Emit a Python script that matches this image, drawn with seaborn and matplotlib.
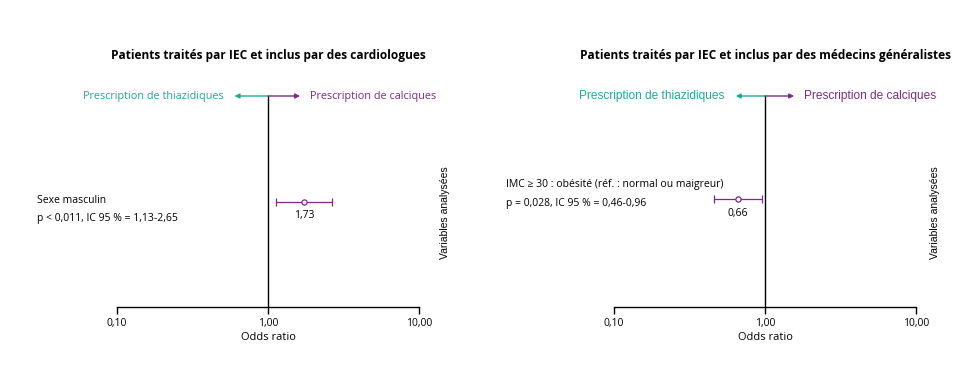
import numpy as np
import pandas as pd
import seaborn as sns
import matplotlib.pyplot as plt

# data
titles = ["Patients traités par IEC et inclus par des cardiologues",
          "Patients traités par IEC et inclus par des médecins généralistes"]
variables = ["Sexe masculin",
             "IMC ≥ 30 : obésité (réf. : normal ou maigreur)"]
stats_txt = ["p < 0,011, IC 95 % = 1,13-2,65",
             "p = 0,028, IC 95 % = 0,46-0,96"]
odds = [1.73, 0.66]
ci_low = [1.13, 0.46]
ci_high = [2.65, 0.96]
odds_lbl = ["1,73", "0,66"]
tick_vals = [0.1, 1.0, 10.0]
tick_lbls = ["0,10", "1,00", "10,00"]

TEAL = "#1fa99b"
PURPLE = "#7d2a85"

sns.set_style("white")
plt.rcParams['font.family'] = ['Open Sans', 'DejaVu Sans']
plt.rcParams['text.color'] = 'black'
plt.rcParams['axes.labelcolor'] = 'black'
plt.rcParams['xtick.color'] = 'black'

fig = plt.figure(figsize=(9.73, 3.8), dpi=100)
W, H = 973, 380
# axes placement in pixels: x0, x1, top(y of arrows), bottom(y of axis)
boxes = [(117, 419), (614, 916)]
top_px, bot_px = 96, 307
arrow_tips = [(0.60, 1.63), (0.64, 1.56)]   # where the arrows end
y_pts = [0.50, 0.51]
var_x = [-0.265, -0.358]
var_y = [0.53, 0.605]
side_x = [1.087, 1.063]
arrow_fonts = ['Open Sans', 'Liberation Sans']
arrow_sizes = [7.8, 8.6]

for i, (x0, x1) in enumerate(boxes):
    ax = fig.add_axes([x0 / W, (H - bot_px) / H, (x1 - x0) / W, (bot_px - top_px) / H])
    ax.set_xscale('log')
    ax.set_xlim(0.1, 10)
    ax.set_ylim(0, 1)

    df = pd.DataFrame({'or': [odds[i]], 'y': [y_pts[i]]})
    ax.errorbar(odds[i], y_pts[i],
                xerr=[[odds[i] - ci_low[i]], [ci_high[i] - odds[i]]],
                fmt='none', ecolor=PURPLE, elinewidth=0.9, capsize=3, capthick=0.9)
    sns.scatterplot(data=df, x='or', y='y', ax=ax, marker='o', s=14,
                    facecolor='white', edgecolor=PURPLE, linewidth=0.9, zorder=3)
    ax.annotate(odds_lbl[i], (odds[i], y_pts[i]), xytext=(0, -6),
                textcoords='offset points', ha='center', va='top', fontsize=7.5)

    # reference line at OR = 1
    ax.plot([1, 1], [0, 1], color='black', lw=1, clip_on=False)
    lt, rt = arrow_tips[i]
    ax.annotate('', xy=(lt, 1), xytext=(1, 1), annotation_clip=False,
                arrowprops=dict(arrowstyle='-|>', color=TEAL, lw=1, mutation_scale=7,
                                shrinkA=0, shrinkB=0))
    ax.annotate('', xy=(rt, 1), xytext=(1, 1), annotation_clip=False,
                arrowprops=dict(arrowstyle='-|>', color=PURPLE, lw=1, mutation_scale=7,
                                shrinkA=0, shrinkB=0))
    ax.annotate("Prescription de thiazidiques", (lt, 1), xytext=(-8, 0),
                textcoords='offset points', ha='right', va='center',
                color=TEAL, fontsize=arrow_sizes[i], family=arrow_fonts[i],
                annotation_clip=False)
    ax.annotate("Prescription de calciques", (rt, 1), xytext=(7, 0),
                textcoords='offset points', ha='left', va='center',
                color=PURPLE, fontsize=arrow_sizes[i], family=arrow_fonts[i],
                annotation_clip=False)

    tr = ax.get_yaxis_transform()
    ax.text(var_x[i], var_y[i], variables[i] + "\n" + stats_txt[i], transform=tr,
            ha='left', va='top', fontsize=7.5, linespacing=1.9)
    ax.text(side_x[i], 0.445, "Variables analysées", transform=tr, rotation=90,
            ha='center', va='center', fontsize=7.5, family='Liberation Sans')

    ax.set_title(titles[i], fontsize=8.6, fontweight='bold', pad=27, color='black')

    ax.set_xticks(tick_vals)
    ax.set_xticklabels(tick_lbls, fontsize=7.5)
    ax.xaxis.set_minor_locator(plt.NullLocator())
    ax.set_yticks([])
    ax.tick_params(axis='x', bottom=True, direction='out', length=5, width=1,
                   color='black', pad=3)
    ax.set_xlabel("Odds ratio", fontsize=8, labelpad=2)
    sns.despine(ax=ax, left=True, top=True, right=True)
    ax.spines['bottom'].set_color('black')
    ax.spines['bottom'].set_linewidth(1)
    ax.set_ylabel('')

fig.savefig("out.png", dpi=100, facecolor='white')
